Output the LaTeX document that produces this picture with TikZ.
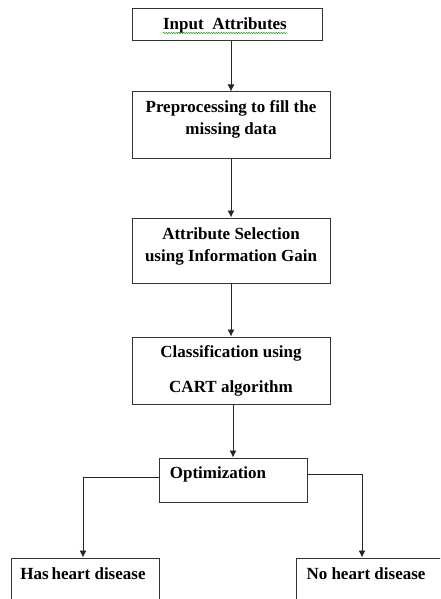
\documentclass[tikz,border=0pt]{standalone}
\usepackage{fontspec}
\setmainfont{Liberation Serif}
\usetikzlibrary{arrows.meta,decorations.pathmorphing}
\begin{document}
\begin{tikzpicture}[x=1pt,y=-1pt,
  box/.style={draw=black!80,line width=1pt,rectangle,inner sep=0pt},
  lbl/.style={font=\fontsize{17}{22}\selectfont\bfseries,align=center,inner sep=0pt},
  conn/.style={draw=black!85,line width=0.9pt,-{Latex[length=7pt,width=7pt]}}]
\useasboundingbox (0,0) rectangle (440,599);
\clip (0,0) rectangle (440,599);
\fill[white] (0,0) rectangle (440,599);
% boxes
\node[box,minimum width=190pt,minimum height=32pt] (b1) at (227,25) {};
\node[box,minimum width=198pt,minimum height=66pt] (b2) at (231,125) {};
\node[box,minimum width=198pt,minimum height=65pt] (b3) at (231,250.5) {};
\node[box,minimum width=198pt,minimum height=67pt] (b4) at (231,370.5) {};
\node[box,minimum width=148pt,minimum height=44pt] (b5) at (233,480) {};
\node[box,minimum width=148pt,minimum height=60pt] (b6) at (85,588) {};
\node[box,minimum width=154pt,minimum height=60pt] (b7) at (373,588) {};
% texts
\node[lbl] (t1) at (225,25) {Input\ \ Attributes};
\draw[green!60!black,line width=0.5pt,decoration={snake,amplitude=0.6pt,segment length=2.5pt},decorate] (163,33) -- (287,33);
\node[lbl] (t2) at (231,119) {Preprocessing to fill the\\missing data};
\node[lbl] (t3) at (231,246) {Attribute Selection\\using Information Gain};
\node[lbl,align=center] (t4) at (231,370.5) {Classification using\\[13pt]CART algorithm};
\node[lbl] (t5) at (218,474) {Optimization};
\node[lbl] (t6) at (83,574) {Has\,heart disease};
\node[lbl] (t7) at (366,574) {No heart disease};
% connectors
\draw[conn] (b2.north |- b1.south) -- (b2.north);
\draw[conn] (b2.south) -- (b3.north);
\draw[conn] (b3.south) -- (b4.north);
\draw[conn] (b5.north |- b4.south) -- (b5.north);
\draw[conn] ([yshift=3pt]b5.west) -| ([xshift=-2pt]b6.north);
\draw[conn] ([yshift=6pt]b5.east) -| ([xshift=-11pt]b7.north);
\end{tikzpicture}
\end{document}
